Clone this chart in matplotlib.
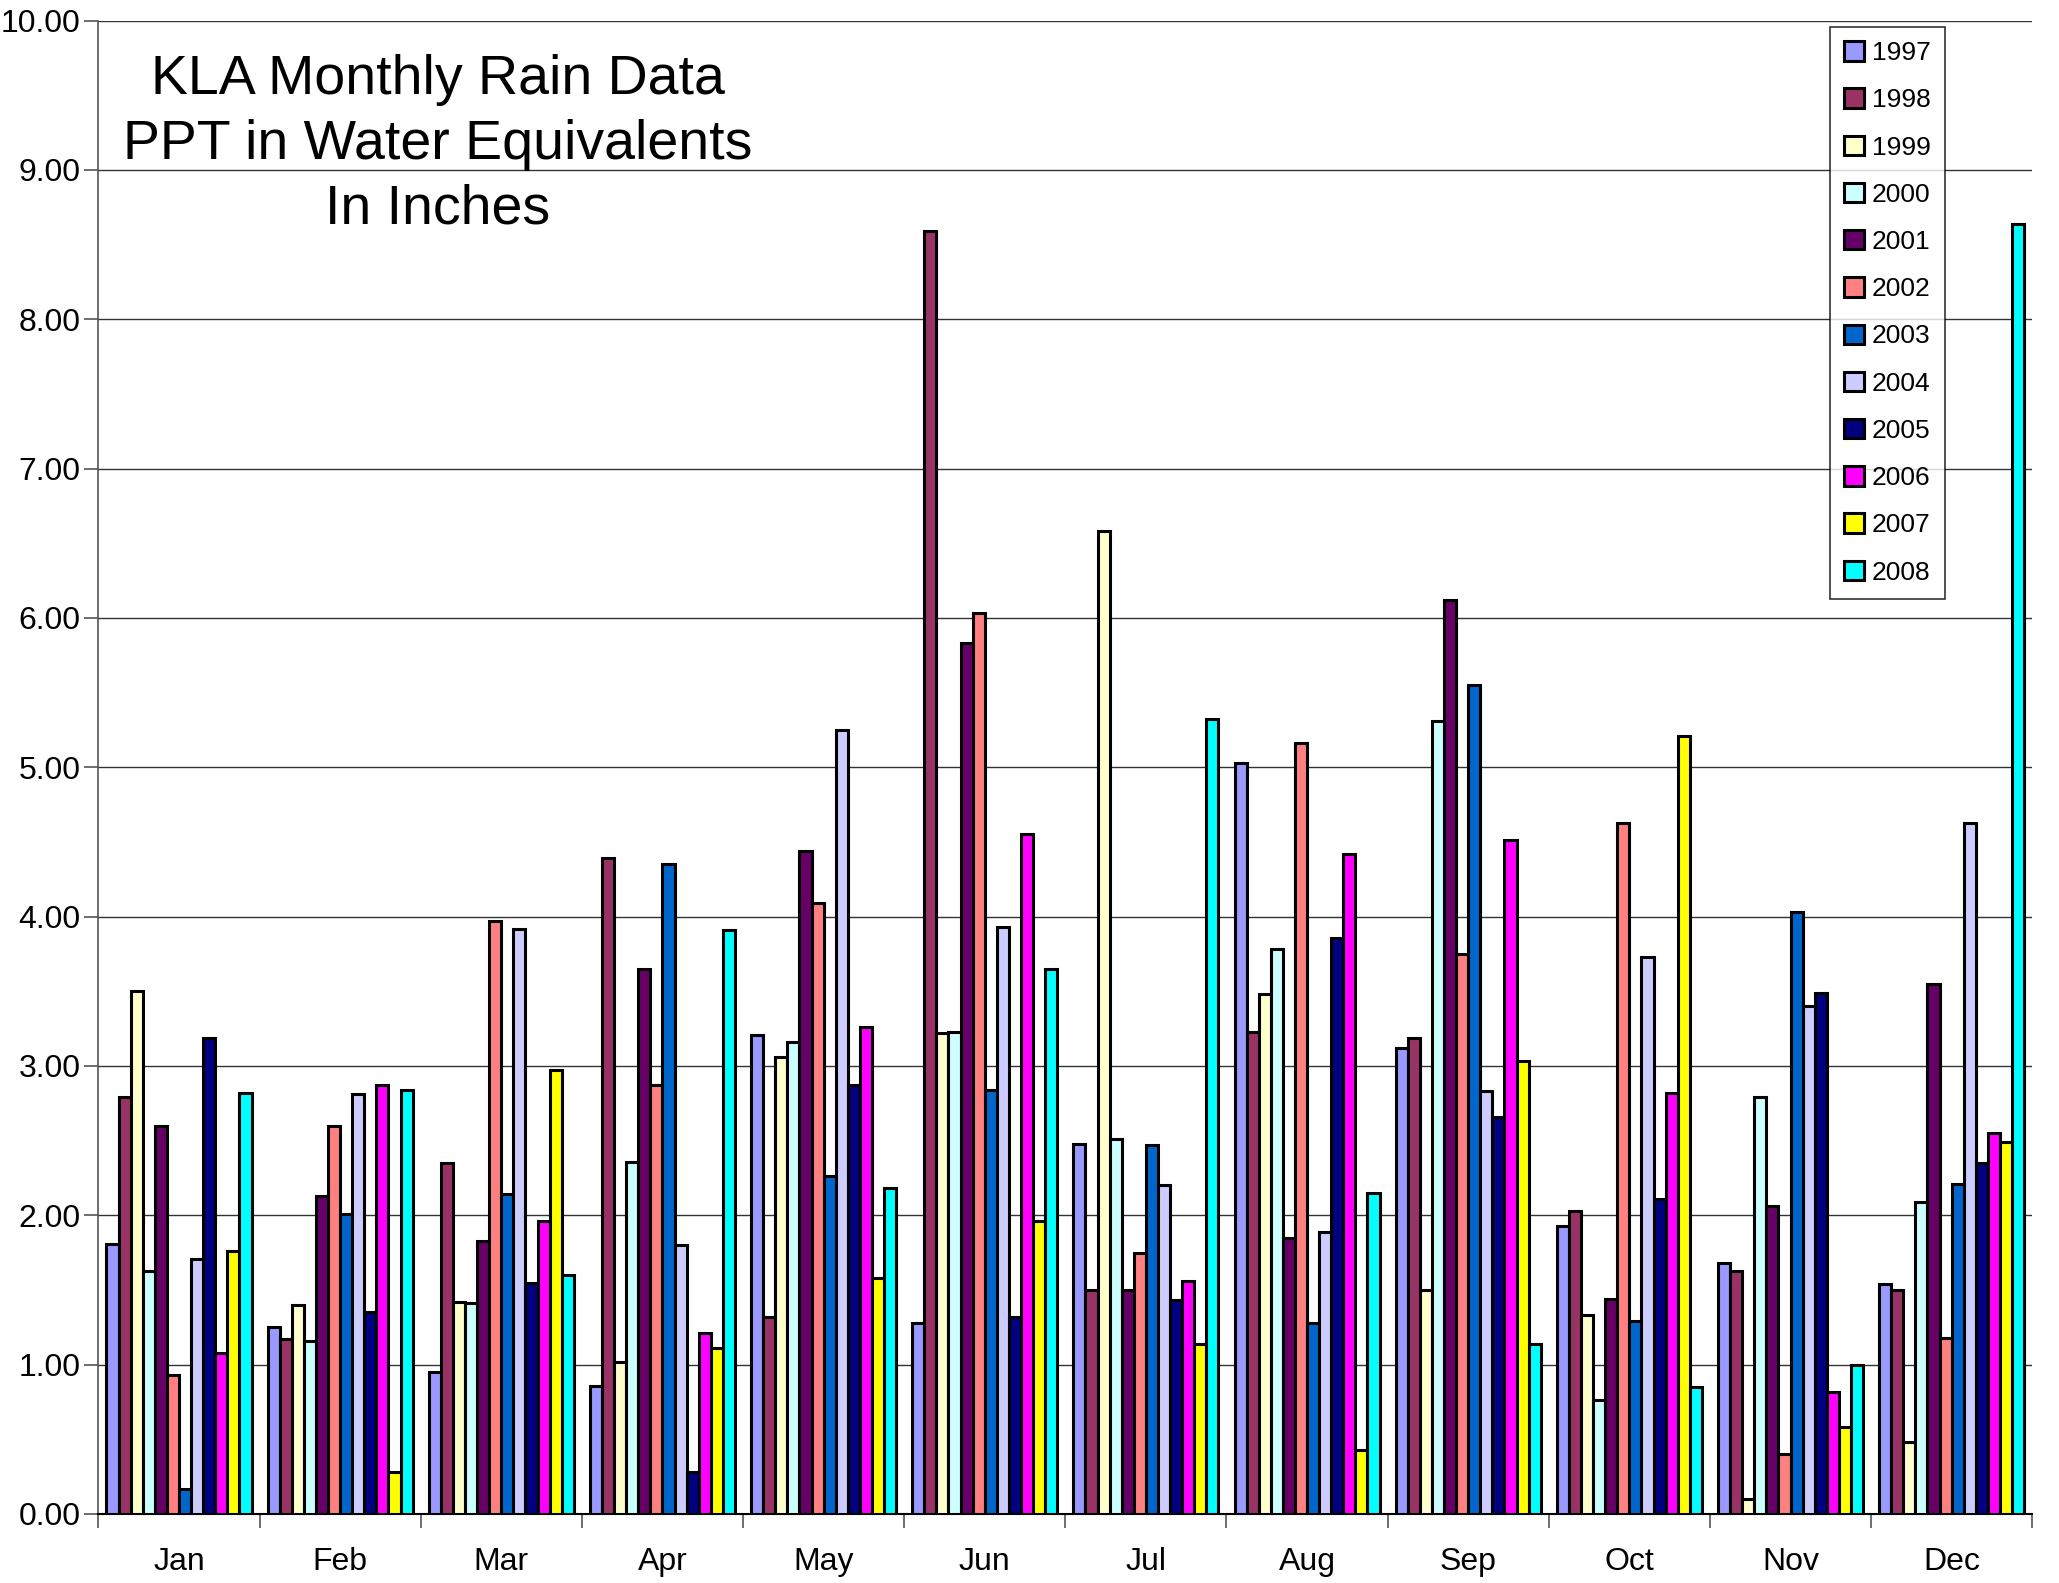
import numpy as np
import matplotlib.pyplot as plt

plt.rcParams['font.family'] = ['Liberation Sans', 'DejaVu Sans']

months = ['Jan', 'Feb', 'Mar', 'Apr', 'May', 'Jun', 'Jul', 'Aug', 'Sep', 'Oct', 'Nov', 'Dec']
years = ['1997', '1998', '1999', '2000', '2001', '2002', '2003', '2004', '2005', '2006', '2007', '2008']
colors = ['#9999FF', '#993366', '#FFFFCC', '#CCFFFF', '#660066', '#FF8080',
          '#0066CC', '#CCCCFF', '#000080', '#FF00FF', '#FFFF00', '#00FFFF']

# rain per month, one list per year
rain_1997 = [1.81, 1.25, 0.95, 0.86, 3.21, 1.28, 2.48, 5.03, 3.12, 1.93, 1.68, 1.54]
rain_1998 = [2.79, 1.17, 2.35, 4.39, 1.32, 8.59, 1.50, 3.23, 3.19, 2.03, 1.63, 1.50]
rain_1999 = [3.50, 1.40, 1.42, 1.02, 3.06, 3.22, 6.58, 3.48, 1.50, 1.33, 0.10, 0.48]
rain_2000 = [1.63, 1.16, 1.41, 2.36, 3.16, 3.23, 2.51, 3.78, 5.31, 0.76, 2.79, 2.09]
rain_2001 = [2.60, 2.13, 1.83, 3.65, 4.44, 5.83, 1.50, 1.85, 6.12, 1.44, 2.06, 3.55]
rain_2002 = [0.93, 2.60, 3.97, 2.87, 4.09, 6.03, 1.75, 5.16, 3.75, 4.63, 0.40, 1.18]
rain_2003 = [0.17, 2.01, 2.14, 4.35, 2.26, 2.84, 2.47, 1.28, 5.55, 1.29, 4.03, 2.21]
rain_2004 = [1.71, 2.81, 3.92, 1.80, 5.25, 3.93, 2.20, 1.89, 2.83, 3.73, 3.40, 4.63]
rain_2005 = [3.19, 1.35, 1.55, 0.28, 2.87, 1.32, 1.43, 3.86, 2.66, 2.11, 3.49, 2.35]
rain_2006 = [1.08, 2.87, 1.96, 1.21, 3.26, 4.55, 1.56, 4.42, 4.51, 2.82, 0.82, 2.55]
rain_2007 = [1.76, 0.28, 2.97, 1.11, 1.58, 1.96, 1.14, 0.43, 3.03, 5.21, 0.58, 2.49]
rain_2008 = [2.82, 2.84, 1.60, 3.91, 2.18, 3.65, 5.32, 2.15, 1.14, 0.85, 1.00, 8.64]

series = [rain_1997, rain_1998, rain_1999, rain_2000, rain_2001, rain_2002,
          rain_2003, rain_2004, rain_2005, rain_2006, rain_2007, rain_2008]

fig = plt.figure(figsize=(20.59, 15.83), dpi=100)
ax = fig.add_axes([0.0478, 0.0436, 0.9392, 0.9434])

x = np.arange(len(months))
n = len(years)
group_w = 0.9
bar_w = group_w / n
for i, (vals, c, yr) in enumerate(zip(series, colors, years)):
    offs = -group_w / 2 + bar_w * (i + 0.5)
    ax.bar(x + offs, vals, width=bar_w, color=c, edgecolor='black',
           linewidth=2.2, label=yr, zorder=3)

ax.set_xlim(-0.5, len(months) - 0.5)
ax.set_ylim(0, 10)
ax.set_yticks(np.arange(0, 10.5, 1))
ax.set_yticklabels(['%.2f' % v for v in np.arange(0, 10.5, 1)])
ax.yaxis.grid(True, color='#333333', linewidth=1.0, zorder=0)
ax.set_axisbelow(True)

# month names centred, ticks at the boundaries
ax.set_xticks(np.arange(-0.5, len(months), 1))
ax.set_xticklabels([])
ax.set_xticks(x, minor=True)
ax.set_xticklabels(months, minor=True)
ax.tick_params(axis='x', which='minor', length=0, pad=24, labelsize=23)
ax.tick_params(axis='x', which='major', length=10, width=1.2, direction='out', color='#555555')
ax.tick_params(axis='y', length=10, width=1.2, direction='out', labelsize=23, pad=3, color='#555555')

for s in ['top', 'right']:
    ax.spines[s].set_visible(False)
ax.spines['left'].set_color('#555555')
ax.spines['bottom'].set_color('black')
ax.spines['left'].set_linewidth(1.2)
ax.spines['bottom'].set_linewidth(1.5)

fig.text(0.2125, 0.966, 'KLA Monthly Rain Data\nPPT in Water Equivalents\nIn Inches',
         ha='center', va='top', fontsize=40, linespacing=1.32)

leg = ax.legend(loc='upper right', bbox_to_anchor=(0.955, 0.996), fontsize=19,
                frameon=True, fancybox=False, edgecolor='black', handlelength=0.75,
                handleheight=0.75, handletextpad=0.3, labelspacing=0.88,
                borderpad=0.55, borderaxespad=0)
leg.get_frame().set_linewidth(1.2)

fig.savefig('out.png', dpi=100)
